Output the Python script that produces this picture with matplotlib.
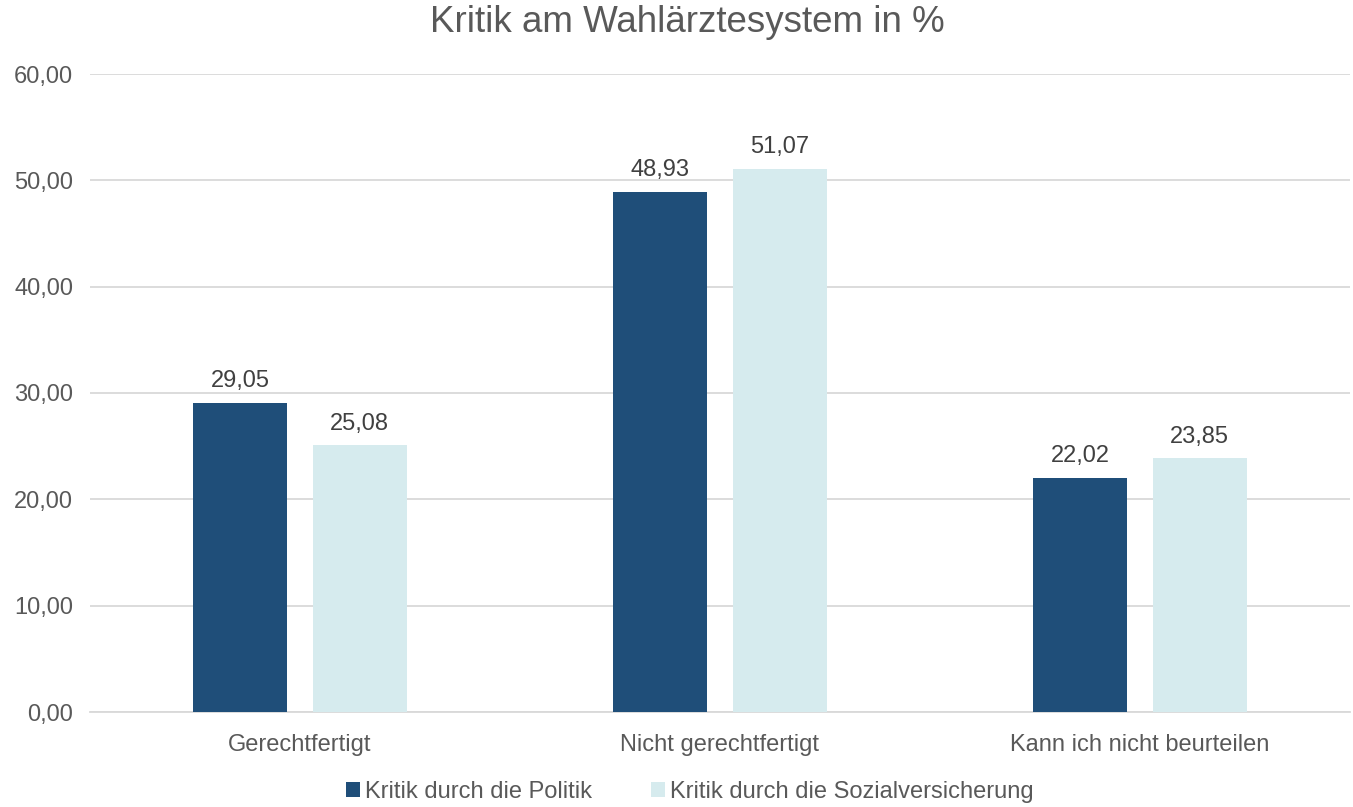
import matplotlib
matplotlib.use("Agg")
import matplotlib.pyplot as plt
import numpy as np
from matplotlib.patches import Patch

categories = ["Gerechtfertigt", "Nicht gerechtfertigt", "Kann ich nicht beurteilen"]
series_names = ["Kritik durch die Politik", "Kritik durch die Sozialversicherung"]
politik = [29.05, 48.93, 22.02]
sozial = [25.08, 51.07, 23.85]
yticks = [0, 10, 20, 30, 40, 50, 60]

colors = ["#1F4E79", "#D6EBEE"]
text_color = "#404040"

plt.rcParams['font.family'] = ['Liberation Sans', 'DejaVu Sans']

fig = plt.figure(figsize=(13.53, 8.07), dpi=100)
ax = fig.add_axes([90/1353, 1-712/807, 1260/1353, (712-74)/807])

x = np.arange(len(categories))
w = 0.223
off = 0.1425
for vals, c, dx in [(politik, colors[0], -off), (sozial, colors[1], off)]:
    bars = ax.bar(x + dx, vals, width=w, color=c, zorder=3)
    for b, v in zip(bars, vals):
        ax.text(b.get_x() + b.get_width()/2, v + 1.0, f"{v:.2f}".replace(".", ","),
                ha="center", va="bottom", fontsize=17, color=text_color)

ax.set_xlim(-0.5, 2.5)
ax.set_ylim(0, 60)
ax.set_yticks(yticks)
ax.set_yticklabels([f"{t:.2f}".replace(".", ",") for t in yticks], fontsize=17, color="#595959")
ax.set_xticks(x)
ax.set_xticklabels(categories, fontsize=17, color="#595959")
ax.tick_params(axis="y", length=0, pad=12)
ax.tick_params(axis="x", length=0, pad=16)
ax.grid(axis="y", color="#D9D9D9", linewidth=1.3, zorder=0)
for s in ["top", "right", "left"]:
    ax.spines[s].set_visible(False)
ax.spines["bottom"].set_color("#D9D9D9")
ax.spines["bottom"].set_linewidth(1.3)

fig.text(687/1353, 1-22/807, "Kritik am Wahlärztesystem in %", ha="center", va="center",
         fontsize=26.5, color="#595959")

handles = [Patch(facecolor=colors[0]), Patch(facecolor=colors[1])]
fig.legend(handles, series_names, loc="center", bbox_to_anchor=(690/1353, 1-792/807),
           ncol=2, frameon=False, fontsize=17, labelcolor="#595959",
           handlelength=0.6, handleheight=0.6, handletextpad=0.2, columnspacing=2.5)

fig.savefig("out.png", dpi=100)
